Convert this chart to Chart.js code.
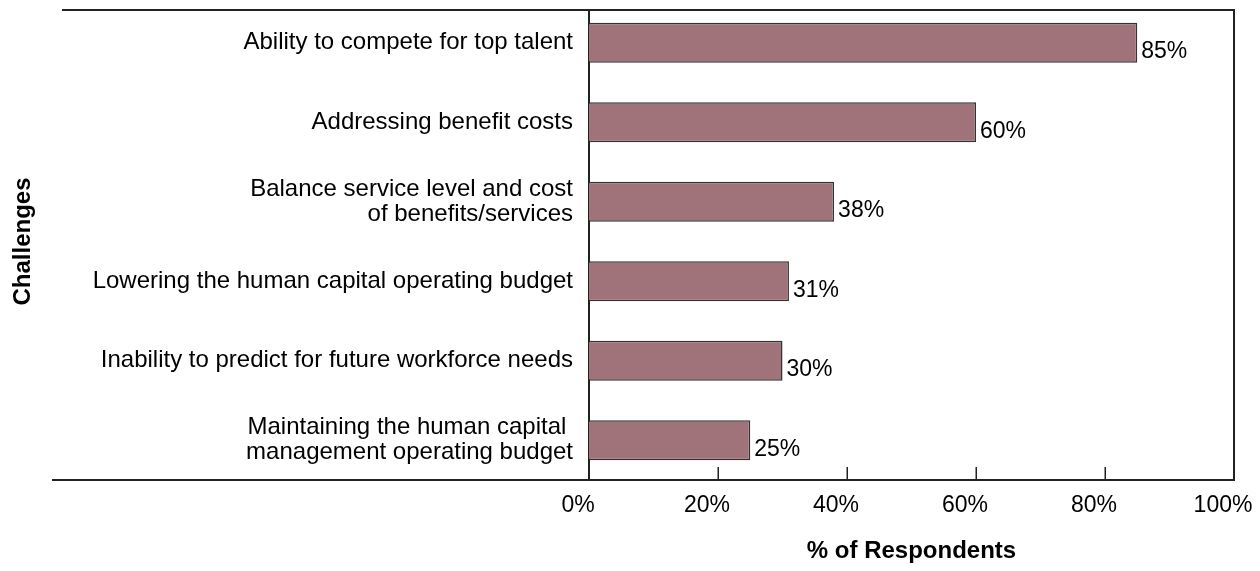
<!DOCTYPE html>
<html>
<head>
<meta charset="utf-8">
<script src="https://cdn.jsdelivr.net/npm/chart.js@4.4.1/dist/chart.umd.min.js"></script>
<style>
  html, body { margin: 0; padding: 0; background: #fff; }
  #wrap { width: 1260px; height: 571px; position: relative; }
</style>
</head>
<body>
<div id="wrap"><canvas id="chart"></canvas></div>
<script>
// Survey results: share of respondents naming each challenge
const challenges = [
  'Ability to compete for top talent',
  'Addressing benefit costs',
  ['Balance service level and cost', 'of benefits/services'],
  'Lowering the human capital operating budget',
  'Inability to predict for future workforce needs',
  ['Maintaining the human capital ', 'management operating budget']
];
const respondentShare = [85, 60, 38, 31, 30, 25];
const shareTicks = [0, 20, 40, 60, 80, 100];

const FONT = '"Liberation Sans", Arial, Helvetica, sans-serif';
const INK = '#000';
const LINE = '#222';

// Outer frame, long rules and inward tick marks
const framePlugin = {
  id: 'frame',
  beforeDatasetsDraw(chart) {
    const { ctx, chartArea: a, scales: { x } } = chart;
    const top = a.top + 7;
    ctx.save();
    ctx.strokeStyle = LINE;
    ctx.lineWidth = 2;
    ctx.beginPath();
    ctx.moveTo(62, top); ctx.lineTo(a.right + 1, top);
    ctx.moveTo(52, a.bottom); ctx.lineTo(a.right + 1, a.bottom);
    ctx.moveTo(a.left, top); ctx.lineTo(a.left, a.bottom);
    ctx.moveTo(a.right, top); ctx.lineTo(a.right, a.bottom);
    ctx.stroke();
    ctx.lineWidth = 1.5;
    ctx.beginPath();
    x.ticks.forEach(t => {
      const px = Math.round(x.getPixelForValue(t.value)) + 0.25;
      ctx.moveTo(px, a.bottom);
      ctx.lineTo(px, a.bottom - 13);
    });
    ctx.stroke();
    ctx.restore();
  }
};

// Percentage label at the end of each bar
const valueLabels = {
  id: 'valueLabels',
  afterDatasetsDraw(chart) {
    const { ctx } = chart;
    const meta = chart.getDatasetMeta(0);
    ctx.save();
    ctx.font = '23px ' + FONT;
    ctx.fillStyle = INK;
    ctx.textAlign = 'left';
    ctx.textBaseline = 'middle';
    meta.data.forEach((bar, i) => {
      ctx.fillText(respondentShare[i] + '%', bar.x + 4, bar.y + 9);
    });
    ctx.restore();
  }
};

new Chart(document.getElementById('chart'), {
  type: 'bar',
  data: {
    labels: challenges,
    datasets: [{
      data: respondentShare,
      backgroundColor: '#A0727A',
      borderColor: '#333',
      borderWidth: 1.5,
      barPercentage: 0.503,
      categoryPercentage: 1
    }]
  },
  options: {
    indexAxis: 'y',
    responsive: true,
    maintainAspectRatio: false,
    animation: false,
    layout: { padding: { top: 3, right: 26, left: 0, bottom: 0 } },
    plugins: {
      legend: { display: false },
      tooltip: { enabled: false }
    },
    scales: {
      x: {
        min: 0,
        max: 100,
        afterBuildTicks: s => { s.ticks = shareTicks.map(v => ({ value: v })); },
        afterFit: s => { s.height = 91; s.paddingLeft = 0; s.paddingRight = 0; },
        grid: { display: false, drawTicks: false },
        border: { display: false },
        ticks: {
          callback: v => v + '%',
          font: { family: FONT, size: 23 },
          color: INK,
          padding: 12,
          labelOffset: -11,
          maxRotation: 0
        },
        title: {
          display: true,
          text: '% of Respondents',
          font: { family: FONT, size: 24, weight: 'bold' },
          color: INK,
          padding: { top: 0, bottom: 5 }
        }
      },
      y: {
        afterFit: s => { s.width = 589; s.paddingTop = 0; s.paddingBottom = 0; },
        grid: { display: false, drawTicks: false },
        border: { display: false },
        ticks: {
          font: { family: FONT, size: 24, lineHeight: 1.05 },
          color: INK,
          padding: 16,
          autoSkip: false
        },
        title: {
          display: true,
          text: 'Challenges',
          font: { family: FONT, size: 24, weight: 'bold' },
          color: INK,
          padding: { top: 9, bottom: 0 }
        }
      }
    }
  },
  plugins: [framePlugin, valueLabels]
});
</script>
</body>
</html>
